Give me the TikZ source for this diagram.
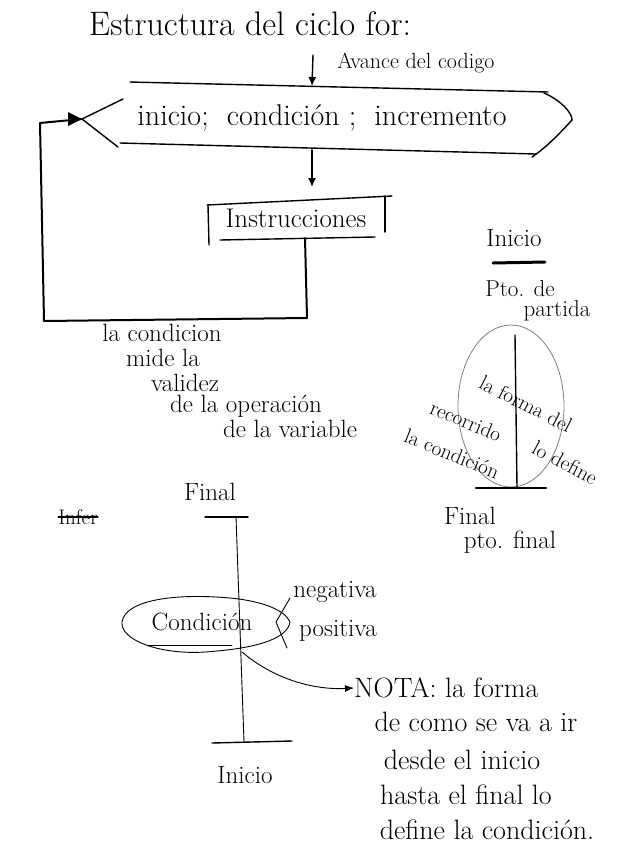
\documentclass[tikz,border=0pt]{standalone}
\usetikzlibrary{arrows.meta}
\begin{document}
\begin{tikzpicture}[x=1pt,y=-1pt,
  ink/.style={line width=1.4pt,line cap=round,line join=round},
  thin ink/.style={line width=0.9pt,line cap=round},
  txt/.style={inner sep=0pt,font=\fontsize{25}{28}\selectfont},
  note/.style={inner sep=0pt,font=\fontsize{28}{32}\selectfont},
  sidetxt/.style={inner sep=0pt,font=\fontsize{21}{24}\selectfont},
  arr/.style={ink,-{Latex[length=9pt,width=8pt]}}]
\useasboundingbox (0,0) rectangle (627,863);
\fill[white] (0,0) rectangle (627,863);

% ---- for-loop header ----
\node[inner sep=0pt,font=\fontsize{34}{38}\selectfont] (title) at (250,24)
  {Estructura del ciclo for:};
\coordinate (avStart) at (313,55);
\coordinate (avEnd) at (312,86);
\draw[arr] (avStart) -- (avEnd);
\node[inner sep=0pt,font=\fontsize{22}{26}\selectfont] (avance) at (416,63)
  {Avance del codigo};

% header shape: two long lines, a chevron on the left, a bracket on the right
\coordinate (tip) at (82,119);
\draw[ink] (130,82) -- (548,92);
\draw[ink] (120,143) -- (536,154);
\draw[ink] (123,99) -- (tip) -- (118,147);
\draw[ink] (544,93) .. controls (560,100) and (572,112) .. (572,120)
  .. controls (560,133) and (548,146) .. (532,157);
\node[inner sep=0pt,font=\fontsize{30}{34}\selectfont] (head) at (322,118)
  {inicio;\ \ condición ;\ \ incremento};

% ---- body ----
\coordinate (hbot) at (312,150);
\coordinate (ibox) at (312,187);
\draw[arr] (hbot) -- (ibox);
\draw[ink] (207,205) -- (392,196);
\draw[ink] (208,205) -- (209,245);
\draw[ink] (385,196) -- (385,232);
\draw[ink] (220,240) -- (375,237);
\node[inner sep=0pt,font=\fontsize{27}{30}\selectfont] (instr) at (296,218)
  {Instrucciones};

% ---- loop back to the header ----
\coordinate (ibot) at (305,238);
\coordinate (c1) at (307,318);
\coordinate (c2) at (44,321);
\coordinate (c3) at (40,123);
\draw[ink,line width=2pt] (ibot) -- (c1) -- (c2) -- (c3) -- (tip);
\fill (tip) -- ++(-14,-7) -- ++(0,14) -- cycle;

\node[txt] (n1) at (162,333) {la condicion};
\node[txt] (n2) at (163,358) {mide la};
\node[txt] (n3) at (185,383) {validez};
\node[txt] (n4) at (246,406) {de la operación};
\node[txt] (n5) at (290,429) {de la variable};

% ---- right-hand sketch ----
\node[txt] (rinicio) at (514,238) {Inicio};
\draw[ink,line width=3pt] (493,263) -- (545,262);
\node[sidetxt,font=\fontsize{23}{26}\selectfont] (pto1) at (520,289) {Pto. de};
\node[sidetxt,font=\fontsize{23}{26}\selectfont] (pto2) at (557,311) {partida};
\draw[gray,line width=0.8pt] (511,406) ellipse [x radius=53, y radius=81];
\coordinate (rtop) at (515,335);
\coordinate (rbot) at (517,487);
\draw[ink] (rtop) -- (rbot);
\draw[ink,line width=2.2pt] (476,488) -- (546,488);
\node[sidetxt,rotate=-27] (rl1) at (526,404) {la forma del};
\node[sidetxt,rotate=-22] (rl2) at (466,421) {recorrido};
\node[sidetxt,rotate=-28] (rl3) at (565,463) {lo define};
\node[sidetxt,rotate=-22] (rl4) at (452,454) {la condición};
\node[txt] (rfinal) at (470,516) {Final};
\node[txt] (rptofinal) at (510,542) {pto. final};

% ---- bottom sketch ----
\node[txt] (bfinal) at (210,492) {Final};
\node[sidetxt] (infer) at (78,517) {Infer};
\draw[ink] (infer.west) -- (infer.east);
\coordinate (btop) at (236,517);
\coordinate (bbot) at (244,742);
\draw[ink] (205,517) -- (248,517);
\draw[thin ink] (btop) -- (bbot);
\draw[ink] (212,743) -- (292,741);
\node[txt] (binicio) at (245,775) {Inicio};

\draw[thin ink] (205,652) .. controls (160,655) and (120,640) .. (122,622)
  .. controls (125,600) and (175,593) .. (230,598)
  .. controls (262,601) and (285,610) .. (290,622)
  .. controls (288,636) and (265,648) .. (205,652);
\node[txt] (cond) at (202,622) {Condición};
\draw[thin ink] (148,645) -- (232,645);
\draw[thin ink] (290,598) -- (276,622) -- (287,648);
\node[txt] (neg) at (335,592) {negativa};
\node[txt] (pos) at (338,631) {positiva};

\coordinate (cs) at (242,652);
\node[note,anchor=west] (nota) at (354,688) {NOTA: la forma};
\draw[thin ink,-{Latex[length=9pt,width=7pt]}] (cs)
  .. controls (275,680) and (315,690) .. (nota.west);
\node[note] (l2) at (476,722) {de como se va a ir};
\node[note] (l3) at (462,760) {desde el inicio};
\node[note] (l4) at (466,795) {hasta el final lo};
\node[note] (l5) at (487,830) {define la condición.};
\end{tikzpicture}
\end{document}
